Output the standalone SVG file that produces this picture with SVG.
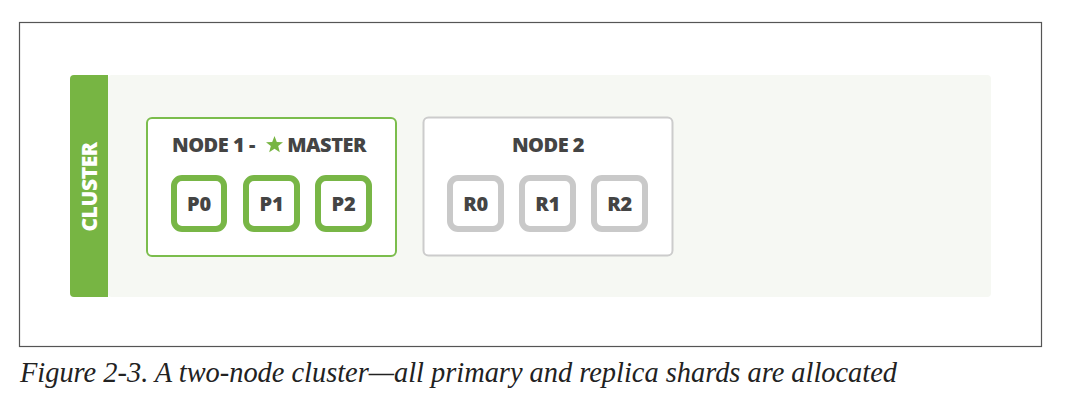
<svg xmlns="http://www.w3.org/2000/svg" width="1068" height="408" viewBox="0 0 1068 408">
<style>
.title{font-family:"Open Sans","Liberation Sans",sans-serif;font-weight:800;font-size:20px;fill:#444444;letter-spacing:-0.5px}
.shard{font-family:"Open Sans","Liberation Sans",sans-serif;font-weight:800;font-size:20px;fill:#444444;text-anchor:middle;letter-spacing:-0.3px}
.pshard{fill:#ffffff;stroke:#78B646;stroke-width:6}
.rshard{fill:#ffffff;stroke:#C9C9C9;stroke-width:6}
</style>
<rect x="0" y="0" width="1068" height="408" fill="#ffffff"/>
<rect x="19.5" y="22.5" width="1022" height="324" fill="#ffffff" stroke="#555555" stroke-width="1.2"/>
<g id="cluster">
<rect x="108" y="75" width="883" height="222" rx="4" fill="#F6F8F3"/>
<rect x="70" y="75" width="38" height="222" rx="4" fill="#77B543"/>
<rect x="100" y="75" width="8" height="222" fill="#77B543"/>
<text transform="translate(97,187) rotate(-90)" text-anchor="middle" font-family="Open Sans, Liberation Sans, sans-serif" font-weight="800" font-size="21" fill="#ffffff" letter-spacing="-0.4">CLUSTER</text>
</g>
<g id="node1">
<rect x="147" y="118" width="249" height="138" rx="5" fill="#ffffff" stroke="#7BBD4C" stroke-width="2"/>
<text class="title" x="172" y="152">NODE 1 -</text>
<polygon points="274.5,136 276.8,141.9 283,142.2 278.2,146.1 279.8,152.2 274.5,148.7 269.2,152.2 270.8,146.1 266,142.2 272.2,141.9" fill="#77B543"/>
<text class="title" x="366" y="152" text-anchor="end">MASTER</text>
</g>
<g id="p0"><rect class="pshard" x="174" y="178" width="50" height="51" rx="8"/><text class="shard" x="199" y="210.5">P0</text></g>
<g id="p1"><rect class="pshard" x="246" y="178" width="51" height="51" rx="8"/><text class="shard" x="271.5" y="210.5">P1</text></g>
<g id="p2"><rect class="pshard" x="318" y="178" width="51" height="51" rx="8"/><text class="shard" x="343.5" y="210.5">P2</text></g>
<g id="node2">
<rect x="423.5" y="117.5" width="249" height="138" rx="5" fill="#ffffff" stroke="#CCCCCC" stroke-width="2"/>
<text class="title" x="548" y="152" text-anchor="middle">NODE 2</text>
</g>
<g id="r0"><rect class="rshard" x="450" y="178" width="51" height="51" rx="8"/><text class="shard" x="475.5" y="210.5">R0</text></g>
<g id="r1"><rect class="rshard" x="522" y="178" width="51" height="51" rx="8"/><text class="shard" x="547.5" y="210.5">R1</text></g>
<g id="r2"><rect class="rshard" x="594" y="178" width="51" height="51" rx="8"/><text class="shard" x="619.5" y="210.5">R2</text></g>
<g id="connectors"></g>
<text x="20" y="382" font-family="Liberation Serif, serif" font-style="italic" font-size="28.5" fill="#222222" textLength="877" lengthAdjust="spacingAndGlyphs">Figure 2-3. A two-node cluster—all primary and replica shards are allocated</text>
</svg>
